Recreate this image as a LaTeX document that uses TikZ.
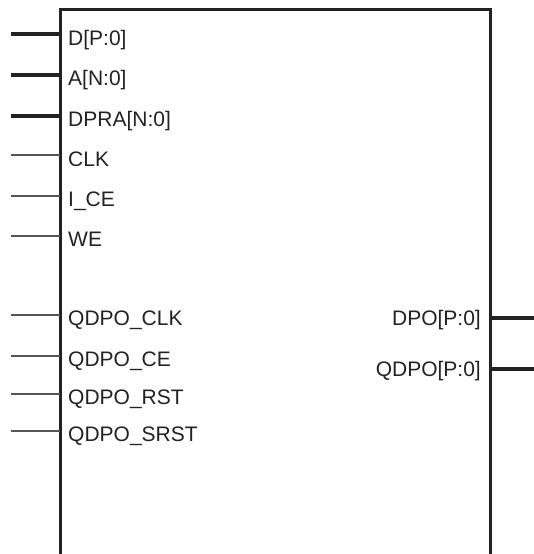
\documentclass[tikz,border=0pt]{standalone}
\usepackage{fontspec}
\setmainfont{Liberation Sans}
\definecolor{pinclr}{HTML}{222222}
\definecolor{wireclr}{HTML}{555555}
\begin{document}
\begin{tikzpicture}[x=1pt,y=-1pt,
  block/.style={line width=3pt,pinclr},
  bus/.style={line width=3.2pt,pinclr},
  wire/.style={line width=1.3pt,wireclr},
  inlbl/.style={anchor=base west,inner sep=0pt,text=pinclr,font=\fontsize{21}{24}\selectfont},
  outlbl/.style={anchor=base east,inner sep=0pt,text=pinclr,font=\fontsize{21}{24}\selectfont}]
\useasboundingbox (0,0) rectangle (534,554);

% Block outline (open at the bottom)
\draw[block] (60,554) -- (60,9) -- (490,9) -- (490,554);

% Input buses
\coordinate (d in) at (11,34);    \coordinate (d pin) at (60,34);
\node[inlbl] (d) at (68,45) {D[P:0]};
\draw[bus] (d in) -- (d pin);
\coordinate (a in) at (11,75);    \coordinate (a pin) at (60,75);
\node[inlbl] (a) at (68,85.5) {A[N:0]};
\draw[bus] (a in) -- (a pin);
\coordinate (dpra in) at (11,116); \coordinate (dpra pin) at (60,116);
\node[inlbl] (dpra) at (68,126.5) {DPRA[N:0]};
\draw[bus] (dpra in) -- (dpra pin);

% Single-bit inputs
\coordinate (clk in) at (11,155); \coordinate (clk pin) at (60,155);
\node[inlbl] (clk) at (68,166) {CLK};
\draw[wire] (clk in) -- (clk pin);
\coordinate (ice in) at (11,196); \coordinate (ice pin) at (60,196);
\node[inlbl] (ice) at (68,206.5) {I\_CE};
\draw[wire] (ice in) -- (ice pin);
\coordinate (we in) at (11,236);  \coordinate (we pin) at (60,236);
\node[inlbl] (we) at (68,246.5) {WE};
\draw[wire] (we in) -- (we pin);

% Output register controls
\coordinate (qclk in) at (11,315);  \coordinate (qclk pin) at (60,315);
\node[inlbl] (qclk) at (68,325.5) {QDPO\_CLK};
\draw[wire] (qclk in) -- (qclk pin);
\coordinate (qce in) at (11,356);   \coordinate (qce pin) at (60,356);
\node[inlbl] (qce) at (68,366.5) {QDPO\_CE};
\draw[wire] (qce in) -- (qce pin);
\coordinate (qrst in) at (11,394);  \coordinate (qrst pin) at (60,394);
\node[inlbl] (qrst) at (68,404.5) {QDPO\_RST};
\draw[wire] (qrst in) -- (qrst pin);
\coordinate (qsrst in) at (11,431); \coordinate (qsrst pin) at (60,431);
\node[inlbl] (qsrst) at (68,441.5) {QDPO\_SRST};
\draw[wire] (qsrst in) -- (qsrst pin);

% Outputs
\coordinate (dpo pin) at (490,318);  \coordinate (dpo out) at (534,318);
\node[outlbl] (dpo) at (481,325.5) {DPO[P:0]};
\draw[bus] (dpo pin) -- (dpo out);
\coordinate (qdpo pin) at (490,369); \coordinate (qdpo out) at (534,369);
\node[outlbl] (qdpo) at (481,376.5) {QDPO[P:0]};
\draw[bus] (qdpo pin) -- (qdpo out);

\end{tikzpicture}
\end{document}
